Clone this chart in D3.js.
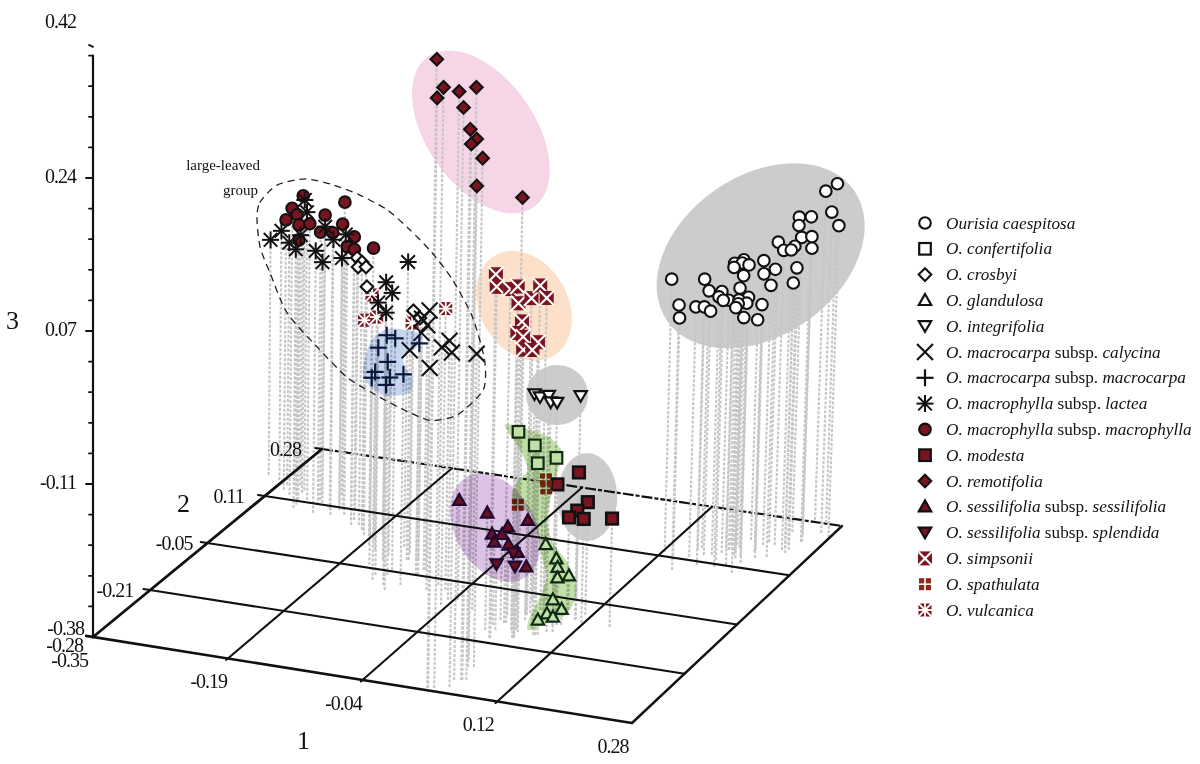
<!DOCTYPE html>
<html><head><meta charset="utf-8">
<script src="https://cdn.jsdelivr.net/npm/d3@7"></script>
<style>html,body{margin:0;background:#fff}svg{display:block;font-family:"Liberation Serif",serif}</style>
</head><body><div id="chart"></div>
<script>
// ---- Data: each row is [axis 1, axis 2, axis 3] ----
const caespitosa=[[.260,.282,.108],[.245,.286,.096],[.266,.251,.087],[.279,.240,.077],[.246,.202,.095],[.255,.216,.092],[.251,.188,.091],[.235,.241,.057],[.256,.217,.069],[.249,.237,.048],[.222,.202,.063],[.251,.177,.071],[.231,.196,.057],[.244,.185,.063],[.225,.150,.060],[.236,.158,.049],[.217,.173,.036],[.245,.202,.037],[.219,.191,.017],[.245,.192,.023],[.125,.128,.032],[.173,.104,.047],[.159,.156,.014],[.193,.106,.035],[.177,.140,.015],[.185,.150,.009],[.187,.127,.017],[.218,.096,.046],[.216,.129,.024],[.192,.163,.006],[.198,.172,.000],[.186,.177,-.004],[.189,.162,-.003],[.218,.167,.003],[.192,.180,-.020],[.201,.200,-.028],[.153,.079,.023],[.143,.108,-.003],[.156,.124,.006],[.157,.148,-.002],[.169,.136,-.001],[.205,.141,.043],[.203,.117,.065],[.198,.159,.054],[.200,.149,.054],[.208,.149,.053],[.184,.166,.041]];
const confertifolia=[[.016,-.049,-.099],[.044,-.071,-.103],[.036,-.040,-.135],[.077,-.090,-.106]];
const crosbyi=[[-.230,.084,.020],[-.219,.071,.021],[-.241,.114,-.002],[-.209,.058,.021],[-.202,.044,.004],[-.134,.012,-.003],[-.119,-.006,-.003]];
const glandulosa=[[.068,-.094,-.205],[.090,-.118,-.210],[.097,-.132,-.214],[.097,-.132,-.226],[.092,-.083,-.241],[.093,-.134,-.251],[.102,-.130,-.262],[.095,-.157,-.259],[.101,-.154,-.263],[.089,-.169,-.263]];
const integrifolia=[[.057,-.109,-.030],[.087,-.171,-.008],[.068,-.094,-.035],[.059,-.064,-.054],[.060,-.047,-.060],[.111,-.109,-.024]];
const calycina=[[-.098,-.031,.017],[-.117,-.005,-.004],[-.100,-.032,.000],[-.100,-.049,-.003],[-.129,-.010,-.040],[-.068,-.069,-.008],[-.055,-.080,.005],[-.041,-.108,.003],[-.074,-.089,-.026],[-.005,-.126,.013]];
const macrocarpa=[[-.129,-.079,.000],[-.132,-.046,-.015],[-.143,-.068,-.020],[-.102,-.050,-.015],[-.116,-.108,-.019],[-.140,-.084,-.042],[-.161,-.041,-.066],[-.106,-.086,-.039],[-.123,-.094,-.051],[-.131,-.063,-.054]];
const lactea=[[-.316,.141,.055],[-.317,.150,.038],[-.355,.169,.005],[-.372,.179,-.011],[-.341,.158,-.003],[-.306,.092,.016],[-.311,.118,.023],[-.280,.086,.020],[-.289,.128,-.008],[-.283,.120,.036],[-.260,.088,.035],[-.266,.128,.000],[-.254,.109,.035],[-.147,.027,.046],[-.183,.053,.009],[-.153,-.004,.020],[-.173,.005,.003],[-.153,-.021,.003]];
const macrophylla=[[-.327,.163,.051],[-.326,.129,.048],[-.327,.146,.035],[-.338,.141,.029],[-.319,.132,.029],[-.302,.122,.036],[-.293,.144,.040],[-.285,.112,.032],[-.267,.103,.037],[-.273,.152,.055],[-.257,.107,.047],[-.233,.082,.044],[-.246,.094,.027],[-.227,.068,.035],[-.190,.032,.054],[-.307,.103,.023]];
const modesta=[[.089,-.051,-.134],[.073,-.075,-.142],[.115,-.090,-.151],[.110,-.109,-.155],[.091,-.084,-.174],[.120,-.115,-.161],[.153,-.114,-.156]];
const remotifolia=[[.038,-.373,.439],[.045,-.370,.407],[.039,-.373,.395],[.059,-.360,.401],[.068,-.332,.398],[.056,-.338,.375],[.063,-.335,.350],[.055,-.294,.324],[.064,-.334,.333],[.061,-.291,.302],[.048,-.273,.262],[.069,-.189,.224]];
const sessilifolia=[[-.031,-.104,-.166],[.031,-.179,-.146],[.053,-.111,-.174],[.044,-.149,-.170],[.045,-.200,-.161],[.035,-.143,-.182],[.033,-.161,-.185],[.036,-.125,-.200],[.062,-.165,-.191],[.060,-.132,-.219]];
const splendida=[[.052,-.152,-.198],[.041,-.174,-.205],[.065,-.180,-.202]];
const simpsonii=[[.044,-.200,.136],[.025,-.147,.101],[.042,-.150,.102],[.057,-.167,.113],[.067,-.190,.103],[.052,-.111,.080],[.085,-.172,.120],[.064,-.096,.077],[.062,-.165,.073],[.052,-.152,.054],[.061,-.158,.053],[.078,-.157,.049],[.066,-.170,.043],[.056,-.116,.023]];
const spathulata=[[.078,-.124,-.119],[.073,-.109,-.135],[.028,-.078,-.171]];
const vulcanica=[[-.185,.017,.006],[-.042,-.126,.059],[-.210,.058,-.040],[-.186,.034,-.025],[-.127,-.009,-.009]];

// Hull outlines as [axis 1, axis 3], all taken at the same axis 2 depth
const hullDepth=-0.05;
const confertifoliaHull=[[.000,-.093],[.026,-.094],[.054,-.100],[.069,-.115],[.064,-.135],[.057,-.163],[.052,-.194],[.059,-.218],[.078,-.240],[.089,-.269],[.079,-.297],[.055,-.312],[.032,-.323],[.034,-.308],[.046,-.283],[.053,-.259],[.047,-.237],[.041,-.211],[.032,-.189],[.014,-.185],[.010,-.170],[.017,-.154],[.028,-.141],[.019,-.119]];
const macrocarpaHull=[[-.163,-.032],[-.158,-.019],[-.140,-.004],[-.117,-.002],[-.099,-.005],[-.105,-.020],[-.121,-.031],[-.118,-.044],[-.110,-.056],[-.112,-.072],[-.139,-.081],[-.159,-.073],[-.168,-.059],[-.166,-.043]];
const largeLeavedHull=[[-.294,.098],[-.291,.118],[-.271,.141],[-.238,.153],[-.205,.151],[-.174,.144],[-.142,.132],[-.115,.113],[-.089,.091],[-.064,.063],[-.040,.024],[-.025,-.023],[-.026,-.057],[-.056,-.090],[-.088,-.101],[-.124,-.092],[-.156,-.080],[-.187,-.066],[-.222,-.037],[-.258,-.003],[-.278,.039],[-.290,.067]];
const ellipseCentres=[[.295,.144],[-.034,.237],[.020,.046],[.061,-.050],[.099,-.161],[-.009,-.212]];

const axis1Ticks=[-0.1925,-0.035,0.1225,0.28], axis1Labels=["-0.19","-0.04","0.12","0.28"];
const axis2Ticks=[-0.215,-0.05,0.115,0.28], axis2Labels=["-0.21","-0.05","0.11","0.28"];
const axis3Ticks=[-0.105,0.07,0.245,0.42], axis3Labels=["-0.11","0.07","0.24","0.42"];
const originLabels=["-0.38","-0.28","-0.35"];
const axisTitles=["1","2","3"];
const legendNames=[["Ourisia caespitosa"],["O. confertifolia"],["O. crosbyi"],["O. glandulosa"],["O. integrifolia"],["O. macrocarpa","subsp.","calycina"],["O. macrocarpa","subsp.","macrocarpa"],["O. macrophylla","subsp.","lactea"],["O. macrophylla","subsp.","macrophylla"],["O. modesta"],["O. remotifolia"],["O. sessilifolia","subsp.","sessilifolia"],["O. sessilifolia","subsp.","splendida"],["O. simpsonii"],["O. spathulata"],["O. vulcanica"]];
const annotation=["large-leaved","group"];

// ---- Layout and scales ----
const W=1200,H=764;
const red="#7a1420";
const u=d3.scaleLinear().domain([-0.35,0.28]).range([0,1]);
const v=d3.scaleLinear().domain([-0.38,0.28]).range([0,1]);
const zH=d3.scaleLinear().domain([-0.28,0.42]).range([0,612]);
const O=[93,637],A=[632,723],B=[322,449],C=[842,526];
const LEAN=22000;
function floor(d1,d2){const a=u(d1),b=v(d2);
  return [d3.interpolate(d3.interpolate(O[0],A[0])(a),d3.interpolate(B[0],C[0])(a))(b),
          d3.interpolate(d3.interpolate(O[1],A[1])(a),d3.interpolate(B[1],C[1])(a))(b)];}
function project(d1,d2,d3v){const p=floor(d1,d2),h=zH(d3v);
  return [p[0]+h*(p[0]-O[0])/LEAN,p[1]-h];}

const svg=d3.select("#chart").append("svg").attr("width",W).attr("height",H).style("isolation","isolate").style("background","#fff");

// ---- Shapes ----
const lineP=(g,pts,sw,col)=>pts.forEach(s=>g.append("line").attr("x1",s[0]).attr("y1",s[1]).attr("x2",s[2]).attr("y2",s[3]).attr("stroke",col).attr("stroke-width",sw));
const shapes={
 circle:(g,st)=>g.append("circle").attr("r",5.8).attr("fill",st.fill).attr("stroke",st.stroke).attr("stroke-width",2.1),
 square:(g,st)=>g.append("rect").attr("x",-5.8).attr("y",-5.8).attr("width",11.6).attr("height",11.6).attr("fill",st.fill).attr("stroke",st.stroke).attr("stroke-width",st.sw||2.2),
 diamond:(g,st)=>g.append("path").attr("d","M0,-6.3L6.3,0L0,6.3L-6.3,0Z").attr("fill",st.fill).attr("stroke",st.stroke).attr("stroke-width",2.1),
 up:(g,st)=>g.append("path").attr("d","M0,-6.4L6.2,4.6L-6.2,4.6Z").attr("fill",st.fill).attr("stroke",st.stroke).attr("stroke-width",2.2),
 down:(g,st)=>g.append("path").attr("d","M0,5.6L6.2,-5L-6.2,-5Z").attr("fill",st.fill).attr("stroke",st.stroke).attr("stroke-width",2.2),
 x:(g,st)=>lineP(g,[[-8,-8,8,8],[-8,8,8,-8]],2.1,st.stroke),
 plus:(g,st)=>lineP(g,[[-8.5,0,8.5,0],[0,-8.5,0,8.5]],2.2,st.stroke),
 star:(g,st)=>lineP(g,[[-6.8,-6.8,6.8,6.8],[-6.8,6.8,6.8,-6.8],[-8.5,0,8.5,0],[0,-8.5,0,8.5]],2,st.stroke),
 simp:(g,st)=>{g.append("rect").attr("x",-7).attr("y",-7).attr("width",14).attr("height",14).attr("fill",red);lineP(g,[[-7.5,-7.5,7.5,7.5],[-7.5,7.5,7.5,-7.5]],2.1,"#fff");},
 spath:(g,st)=>[[-6,-6],[.8,-6],[-6,.8],[.8,.8]].forEach(p=>g.append("rect").attr("x",p[0]).attr("y",p[1]).attr("width",5.2).attr("height",5.2).attr("fill","#8a2a14")),
 vulc:(g,st)=>{g.append("rect").attr("x",-6.5).attr("y",-6.5).attr("width",13).attr("height",13).attr("fill",red);lineP(g,[[-7,-7,7,7],[-7,7,7,-7],[-7,0,7,0],[0,-7,0,7]],1.8,"#fff");}
};
const black="#111";
const species=[
 {data:caespitosa,shape:"circle",fill:"#fff",stroke:black},
 {data:confertifolia,shape:"square",fill:"#fff",stroke:"#12301a"},
 {data:crosbyi,shape:"diamond",fill:"#fff",stroke:black},
 {data:glandulosa,shape:"up",fill:"#fff",stroke:"#12301a"},
 {data:integrifolia,shape:"down",fill:"#fff",stroke:black},
 {data:calycina,shape:"x",stroke:black},
 {data:macrocarpa,shape:"plus",stroke:"#0c1c44"},
 {data:lactea,shape:"star",stroke:black},
 {data:macrophylla,shape:"circle",fill:red,stroke:black},
 {data:modesta,shape:"square",fill:red,stroke:black,sw:2.6},
 {data:remotifolia,shape:"diamond",fill:red,stroke:black},
 {data:sessilifolia,shape:"up",fill:red,stroke:"#250a38"},
 {data:splendida,shape:"down",fill:red,stroke:"#250a38"},
 {data:simpsonii,shape:"simp"},
 {data:spathulata,shape:"spath"},
 {data:vulcanica,shape:"vulc"}
];
const legendStyle=[
 {shape:"circle",fill:"#fff",stroke:black},{shape:"square",fill:"#fff",stroke:black},{shape:"diamond",fill:"#fff",stroke:black},
 {shape:"up",fill:"#fff",stroke:black},{shape:"down",fill:"#fff",stroke:black},{shape:"x",stroke:black},{shape:"plus",stroke:black},{shape:"star",stroke:black},
 {shape:"circle",fill:red,stroke:black},{shape:"square",fill:red,stroke:black},{shape:"diamond",fill:red,stroke:black},{shape:"up",fill:red,stroke:black},{shape:"down",fill:red,stroke:black},
 {shape:"simp"},{shape:"spath"},{shape:"vulc"}];

// ---- Hulls behind the drop lines ----
const ellipseStyle=[
 {rx:114,ry:80,rot:-35,fill:"#cccccc"},{rx:92,ry:54,rot:55,fill:"#f5d5e6"},{rx:58,ry:44,rot:60,fill:"#fce0ca"},
 {rx:31,ry:30,rot:0,fill:"#cccccc"},{rx:30,ry:44,rot:0,fill:"#cccccc"},{rx:58,ry:40,rot:60,fill:"#dcc3e6",over:true}];
function drawEllipse(layer,c,s){const p=project(c[0],hullDepth,c[1]);
  const e=layer.append("ellipse").attr("rx",s.rx).attr("ry",s.ry).attr("transform",`translate(${p[0]},${p[1]}) rotate(${s.rot})`).attr("fill",s.fill);
  if(s.over)e.style("mix-blend-mode","multiply");}
const under=svg.append("g");
ellipseCentres.forEach((c,i)=>{if(!ellipseStyle[i].over)drawEllipse(under,c,ellipseStyle[i]);});

// ---- Far edge of the floor sits beneath the drop lines ----
const gridG=svg.append("g").attr("stroke","#111").attr("fill","none");
const seg=(a,b,w,dash)=>{const l=gridG.append("line").attr("x1",a[0]).attr("y1",a[1]).attr("x2",b[0]).attr("y2",b[1]).attr("stroke-width",w);if(dash)l.attr("stroke-dasharray",dash);};
seg(floor(-0.35,0.28),floor(0.28,0.28),2.2,"11 2 4 2");

// ---- Drop lines ----
const dropG=svg.append("g").attr("stroke","#c6c6c6").attr("stroke-width",2.1).attr("stroke-dasharray","3 1.6").attr("fill","none");
species.forEach(s=>s.data.forEach(d=>{const b=floor(d[0],d[1]),t=project(d[0],d[1],d[2]);
  dropG.append("line").attr("x1",b[0]).attr("y1",b[1]).attr("x2",t[0]).attr("y2",t[1]);}));

// ---- Floor grid ----
const gridTop=svg.append("g").attr("stroke","#111").attr("fill","none");
const seg2=(a,b,w)=>gridTop.append("line").attr("x1",a[0]).attr("y1",a[1]).attr("x2",b[0]).attr("y2",b[1]).attr("stroke-width",w).attr("stroke-linecap","round");
axis1Ticks.slice(0,3).forEach(t=>seg2(floor(t,-0.385),floor(t,0.28),2.1));
axis2Ticks.slice(0,3).forEach(t=>seg2(floor(-0.358,t),floor(0.28,t),2.1));
seg2(floor(-0.358,0.28),floor(-0.35,0.28),2);
seg2(floor(-0.35,-0.38),floor(-0.35,0.28),2.8);
seg2(floor(-0.358,-0.38),floor(0.28,-0.38),2.6);
seg2(floor(0.28,-0.38),floor(0.28,0.28),2.4);

// ---- Vertical axis ----
seg2(project(-0.35,-0.38,-0.28),project(-0.35,-0.38,0.385),2.2);
d3.range(0,19).map(i=>-0.245+i*0.035).forEach((z,i)=>{const p=project(-0.35,-0.38,z),major=(i%5)===4;
  seg2([p[0]-(major?7:4),p[1]],p,1.8);});
{const p=project(-0.35,-0.38,0.395);seg2([p[0]-4,p[1]-2],[p[0],p[1]],1.8);}

// ---- Markers ----
const order=[15,8,7,0,1,2,3,4,5,6,9,10,11,12,13,14];
const markG=svg.append("g");
order.forEach(i=>{const s=species[i];s.data.forEach(d=>{const p=project(d[0],d[1],d[2]);
  shapes[s.shape](markG.append("g").attr("transform",`translate(${p[0]},${p[1]})`),s);});});

// ---- Hulls tinting what is below ----
const curve=d3.line().curve(d3.curveCardinalClosed.tension(.3)).x(d=>project(d[0],hullDepth,d[1])[0]).y(d=>project(d[0],hullDepth,d[1])[1]);
const over=svg.append("g");
drawEllipse(over,ellipseCentres[5],ellipseStyle[5]);
over.append("path").attr("d",curve(confertifoliaHull)).attr("fill","#c2dfa8").style("mix-blend-mode","multiply");
over.append("path").attr("d",curve(macrocarpaHull)).attr("fill","#c5d6ee").style("mix-blend-mode","multiply");
svg.append("path").attr("d",curve(largeLeavedHull)).attr("fill","none").attr("stroke","#222").attr("stroke-width",1.3).attr("stroke-dasharray","7 5");

// ---- Text ----
const txt=(x,y,s,size,anchor)=>svg.append("text").attr("x",x).attr("y",y).attr("dy",".34em").attr("font-size",size).attr("text-anchor",anchor||"middle").attr("letter-spacing",size>=19?-1:0).attr("fill","#111").text(s);
axis3Ticks.forEach((t,i)=>{const p=project(-0.35,-0.38,t);txt(p[0]-17,p[1]-(i===3?4:2),axis3Labels[i],20,"end");});
const axis2Offset=[-17,-15,-21,-21];
axis2Ticks.forEach((t,i)=>{const p=floor(-0.35,t);txt(p[0]+axis2Offset[i],p[1],axis2Labels[i],20,"end");});
axis1Ticks.forEach((t,i)=>{const p=floor(t,-0.38);txt(p[0]-19,p[1]+23,axis1Labels[i],20,"middle");});
const o=floor(-0.35,-0.38);
[[-9,-9],[-10,8],[-5,23]].forEach((d,i)=>txt(o[0]+d[0],o[1]+d[1],originLabels[i],20,"end"));
[[303,740],[183,503],[12,320]].forEach((p,i)=>txt(p[0],p[1],axisTitles[i],26,"middle"));
txt(260,165,annotation[0],15,"end");
txt(258,190,annotation[1],15,"end");

// ---- Legend ----
const ly=d3.scaleLinear().domain([0,15]).range([223,610]);
legendNames.forEach((n,i)=>{const g=svg.append("g").attr("transform",`translate(925,${ly(i)})`);
  shapes[legendStyle[i].shape](g,legendStyle[i]);
  const t=svg.append("text").attr("x",946).attr("y",ly(i)).attr("dy",".32em").attr("font-size",17.2).attr("fill","#111");
  n.forEach((part,j)=>t.append("tspan").attr("font-style",j===1?"normal":"italic").text((j?" ":"")+part));
});
</script></body></html>
